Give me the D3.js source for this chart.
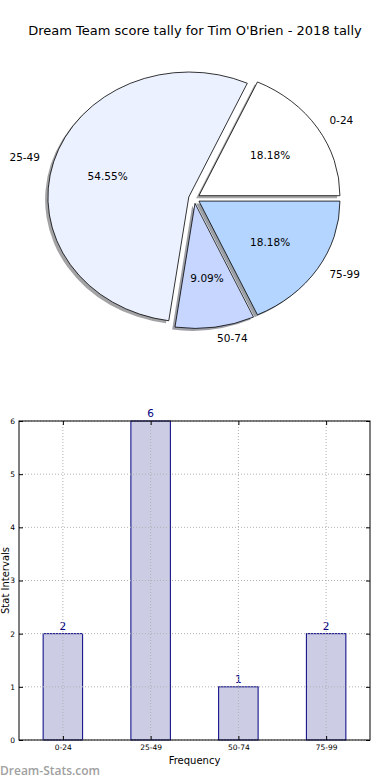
<!DOCTYPE html>
<html>
<head>
<meta charset="utf-8">
<script src="https://cdn.jsdelivr.net/npm/d3@7"></script>
<style>
  body { margin: 0; background: #fff; }
  svg { display: block; font-family: 'DejaVu Sans', sans-serif; }
</style>
</head>
<body>
<script>
var categories = ['0-24', '25-49', '50-74', '75-99'];
var counts = [2, 6, 1, 2];
var sliceColors = ['#ffffff', '#ebf1ff', '#c6d6ff', '#b3d5ff'];
var yTicks = [0, 1, 2, 3, 4, 5, 6];

var w = 390, h = 780;
var svg = d3.select('body').append('svg')
  .attr('width', w)
  .attr('height', h);

// title
svg.append('text')
  .attr('x', 195).attr('y', 35)
  .attr('text-anchor', 'middle')
  .attr('font-size', '13px')
  .text("Dream Team score tally for Tim O'Brien - 2018 tally");

// ---- pie (matplotlib style: elliptical, exploded, with shadow) ----
var cx = 194.2, cy = 198.4, rx = 141, ry = 125,
  explode = 0.04;
var px = d3.scaleLinear().domain([-1, 1]).range([cx - rx, cx + rx]);
var py = d3.scaleLinear().domain([-1, 1]).range([cy + ry, cy - ry]);

var total = d3.sum(counts);
// start at 3 o'clock, counter-clockwise
var pie = d3.pie().sort(null).startAngle(Math.PI / 2).endAngle(Math.PI / 2 - 2 * Math.PI);
var arcs = pie(counts);
var arc = d3.arc().innerRadius(0).outerRadius(1);

function dir(d) {
  var m = (d.startAngle + d.endAngle) / 2;
  return [Math.sin(m), Math.cos(m)]; // unit x, unit y (math up)
}
function shade(c) {
  var r = d3.rgb(c);
  return d3.rgb(r.r * 0.3, r.g * 0.3, r.b * 0.3).toString();
}

var pieG = svg.append('g');
// shadows first
pieG.selectAll('path.shadow').data(arcs)
  .enter().append('path')
  .attr('class', 'shadow')
  .attr('d', arc)
  .attr('transform', function (d) {
    var u = dir(d);
    return 'translate(' + px(u[0] * explode - 0.02) + ',' + py(u[1] * explode - 0.02) + ') scale(' + rx + ',' + ry + ')';
  })
  .attr('fill', function (d, i) { return shade(sliceColors[i]); })
  .attr('opacity', 0.5);

pieG.selectAll('path.wedge').data(arcs)
  .enter().append('path')
  .attr('class', 'wedge')
  .attr('d', arc)
  .attr('transform', function (d) {
    var u = dir(d);
    return 'translate(' + px(u[0] * explode) + ',' + py(u[1] * explode) + ') scale(' + rx + ',' + ry + ')';
  })
  .attr('fill', function (d, i) { return sliceColors[i]; })
  .attr('stroke', '#000')
  .attr('stroke-width', 0.8)
  .attr('vector-effect', 'non-scaling-stroke');

// category labels at 1.1 r
pieG.selectAll('text.lab').data(arcs)
  .enter().append('text')
  .attr('class', 'lab')
  .attr('x', function (d) { var u = dir(d); return px(u[0] * (explode + 1.1)); })
  .attr('y', function (d) { var u = dir(d); return py(u[1] * (explode + 1.1)) + 3; })
  .attr('text-anchor', function (d) { return dir(d)[0] > 0 ? 'start' : 'end'; })
  .attr('font-size', '10.5px')
  .text(function (d, i) { return categories[i]; });

// percentages at 0.6 r
pieG.selectAll('text.pct').data(arcs)
  .enter().append('text')
  .attr('class', 'pct')
  .attr('x', function (d) { var u = dir(d); return px(u[0] * (explode + 0.6)); })
  .attr('y', function (d) { var u = dir(d); return py(u[1] * (explode + 0.6)) + 4; })
  .attr('text-anchor', 'middle')
  .attr('font-size', '10.5px')
  .text(function (d) { return (d.value / total * 100).toFixed(2) + '%'; });

// ---- bar chart ----
var plotL = 19, plotR = 370, plotT = 421, plotB = 740;
var x = d3.scaleLinear().domain([-0.5, categories.length - 0.5]).range([plotL, plotR]);
var y = d3.scaleLinear().domain([0, 6]).range([plotB, plotT]);
var barW = 0.45;

var bars = svg.append('g');
bars.selectAll('rect').data(counts)
  .enter().append('rect')
  .attr('x', function (d, i) { return x(i - barW / 2); })
  .attr('y', function (d) { return y(d); })
  .attr('width', x(barW) - x(0))
  .attr('height', function (d) { return y(0) - y(d); })
  .attr('fill', '#cccce5')
  .attr('stroke', '#000080')
  .attr('stroke-width', 1);

// grid
var grid = svg.append('g')
  .attr('stroke', '#b0b0b0')
  .attr('stroke-width', 1)
  .attr('stroke-dasharray', '1,2');
grid.selectAll('line.gy').data(yTicks)
  .enter().append('line')
  .attr('x1', plotL).attr('x2', plotR)
  .attr('y1', function (d) { return y(d); })
  .attr('y2', function (d) { return y(d); });
grid.selectAll('line.gx').data(categories)
  .enter().append('line')
  .attr('y1', plotT).attr('y2', plotB)
  .attr('x1', function (d, i) { return x(i); })
  .attr('x2', function (d, i) { return x(i); });

// value labels
bars.selectAll('text').data(counts)
  .enter().append('text')
  .attr('x', function (d, i) { return x(i); })
  .attr('y', function (d) { return y(d) - 4; })
  .attr('text-anchor', 'middle')
  .attr('font-size', '10.5px')
  .attr('fill', '#000080')
  .text(function (d) { return d; });

// axes (inward ticks, matplotlib classic)
var yAxis = d3.axisLeft(y).tickValues(yTicks).tickFormat(d3.format('d'))
  .tickSizeInner(-4).tickSizeOuter(0).tickPadding(4);
var ya = svg.append('g').attr('transform', 'translate(' + plotL + ',0)').call(yAxis);
var yAxisR = d3.axisRight(y).tickValues(yTicks).tickSizeInner(-4).tickSizeOuter(0).tickFormat('');
var yr = svg.append('g').attr('transform', 'translate(' + plotR + ',0)').call(yAxisR);
var xAxis = d3.axisBottom(x).tickValues(d3.range(categories.length))
  .tickFormat(function (d) { return categories[d]; })
  .tickSizeInner(-4).tickSizeOuter(0).tickPadding(5);
var xa = svg.append('g').attr('transform', 'translate(0,' + plotB + ')').call(xAxis);
var xAxisT = d3.axisTop(x).tickValues(d3.range(categories.length))
  .tickSizeInner(-4).tickSizeOuter(0).tickFormat('');
var xt = svg.append('g').attr('transform', 'translate(0,' + plotT + ')').call(xAxisT);
[ya, yr, xa, xt].forEach(function (g) {
  g.select('.domain').remove();
  g.selectAll('text').attr('font-size', '7.5px').attr('font-family', 'DejaVu Sans, sans-serif').attr('fill', '#000');
  g.selectAll('line').attr('stroke', '#000');
});

svg.append('rect')
  .attr('x', plotL).attr('y', plotT)
  .attr('width', plotR - plotL).attr('height', plotB - plotT)
  .attr('fill', 'none')
  .attr('stroke', '#000')
  .attr('stroke-width', 1);

svg.append('text')
  .attr('x', (plotL + plotR) / 2).attr('y', 764)
  .attr('text-anchor', 'middle')
  .attr('font-size', '10px')
  .text('Frequency');

svg.append('text')
  .attr('transform', 'translate(9,' + ((plotT + plotB) / 2) + ') rotate(-90)')
  .attr('text-anchor', 'middle')
  .attr('font-size', '10px')
  .text('Stat Intervals');

// watermark
svg.append('text')
  .attr('x', 0).attr('y', 775)
  .attr('font-family', "'Open Sans', sans-serif")
  .attr('font-size', '12px')
  .attr('font-weight', 600)
  .attr('fill', '#a0a0a0')
  .text('Dream-Stats.com');
</script>
</body>
</html>
